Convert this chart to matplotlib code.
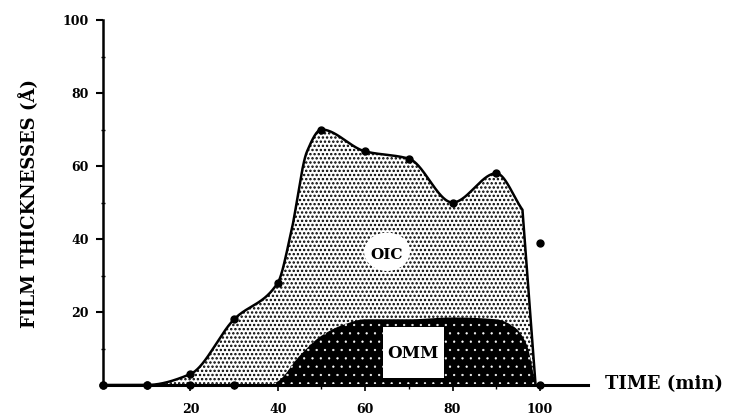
import numpy as np
import matplotlib
matplotlib.use("Agg")
import matplotlib.pyplot as plt
from matplotlib.patches import Ellipse, Rectangle

# ---- data ----
oic_time = [0, 10, 20, 30, 40, 43, 46.7, 50, 60, 70, 80, 90, 96]
oic_thick = [0, 0, 3, 18, 28, 41.5, 64, 70, 64, 62, 50, 58, 48]
oic_drop_time = [99]
oic_drop_thick = [0]
oic_marker_time = [0, 10, 20, 30, 40, 50, 60, 70, 80, 90]
oic_marker_thick = [0, 0, 3, 18, 28, 70, 64, 62, 50, 58]

omm_time = [0, 10, 20, 30, 38, 40, 45, 50, 55, 60, 70, 80, 90, 94, 97, 99]
omm_thick = [0, 0, 0, 0, 0, 1, 8, 13.5, 16.5, 18, 18, 18.5, 18, 16, 11, 0]
omm_marker_time = [0, 10, 20, 30, 100]
omm_marker_thick = [0, 0, 0, 0, 0]

extra_time = [100]
extra_thick = [39]

x_ticks = [20, 40, 60, 80, 100]
y_ticks = [20, 40, 60, 80, 100]


def pchip(x, y, xs):
    x = np.asarray(x, float); y = np.asarray(y, float)
    h = np.diff(x); d = np.diff(y) / h
    m = np.zeros_like(y)
    m[0] = d[0]; m[-1] = d[-1]
    for k in range(1, len(x) - 1):
        if d[k - 1] * d[k] <= 0:
            m[k] = 0
        else:
            w1 = 2 * h[k] + h[k - 1]; w2 = h[k] + 2 * h[k - 1]
            m[k] = (w1 + w2) / (w1 / d[k - 1] + w2 / d[k])
    out = np.empty_like(xs)
    idx = np.clip(np.searchsorted(x, xs) - 1, 0, len(x) - 2)
    for i, xv in enumerate(xs):
        k = idx[i]; t = (xv - x[k]) / h[k]
        h00 = 2 * t**3 - 3 * t**2 + 1; h10 = t**3 - 2 * t**2 + t
        h01 = -2 * t**3 + 3 * t**2; h11 = t**3 - t**2
        out[i] = h00 * y[k] + h10 * h[k] * m[k] + h01 * y[k + 1] + h11 * h[k] * m[k + 1]
    return out


fig = plt.figure(figsize=(7.31, 4.18), dpi=100)
ax = fig.add_axes([103 / 731, 33 / 418, (588 - 103) / 731, 365 / 418])
ax.set_xlim(0, 111)
ax.set_ylim(0, 100)

xs = np.linspace(oic_time[0], oic_time[-1], 800)
ys = pchip(oic_time, oic_thick, xs)
xo = np.concatenate([xs, oic_drop_time])
yo = np.concatenate([ys, oic_drop_thick])

plt.rcParams['hatch.linewidth'] = 1.15
ax.fill_between(xo, 0, yo, facecolor='white', edgecolor='black',
                hatch='....', linewidth=0, zorder=1)

xm = np.linspace(omm_time[0], omm_time[-1], 600)
ym = pchip(omm_time, omm_thick, xm)
plt.rcParams['hatch.linewidth'] = 0.4
ax.fill_between(xm, 0, ym, facecolor='black', edgecolor='white',
                hatch='..', linewidth=0, zorder=2)

ax.add_patch(Rectangle((64, 2), 14, 14, facecolor='white', edgecolor='none', zorder=3))
ax.text(71, 8.5, 'OMM', ha='center', va='center', fontsize=12,
        fontweight='bold', family='DejaVu Serif', zorder=4)

ax.add_patch(Ellipse((65, 36.5), 10.5, 10.5, facecolor='white', edgecolor='none', zorder=3))
ax.text(65, 35.5, 'OIC', ha='center', va='center', fontsize=11,
        fontweight='bold', family='DejaVu Serif', zorder=4)

ax.plot(xo, yo, color='black', lw=1.8, zorder=5)
ax.plot(oic_marker_time, oic_marker_thick, 'o', color='black', ms=5, zorder=6, clip_on=False)
ax.plot(omm_time[:5], omm_thick[:5], color='black', lw=1.8, zorder=5)
ax.plot(omm_marker_time, omm_marker_thick, 'o', color='black', ms=5, zorder=6, clip_on=False)
ax.plot(extra_time, extra_thick, 'o', color='black', ms=5, zorder=6)

for s in ['top', 'right']:
    ax.spines[s].set_visible(False)
ax.spines['left'].set_linewidth(1.8)
ax.spines['bottom'].set_linewidth(2.2)
ax.spines['left'].set_zorder(7)
ax.spines['bottom'].set_zorder(7)

ax.set_xticks(x_ticks)
ax.set_xticks([10, 30, 50, 70, 90], minor=True)
ax.set_yticks(y_ticks)
ax.set_yticks([10, 30, 50, 70, 90], minor=True)
ax.tick_params(axis='x', which='major', direction='out', length=4, width=1.2, pad=9)
ax.tick_params(axis='x', which='minor', direction='out', length=3, width=1.0)
ax.tick_params(axis='y', which='major', direction='out', length=5, width=1.5, pad=5)
ax.tick_params(axis='y', which='minor', direction='inout', length=3, width=1.0)
for lab in ax.get_xticklabels() + ax.get_yticklabels():
    lab.set_fontfamily('DejaVu Serif')
    lab.set_fontweight('bold')
    lab.set_fontsize(9)

fig.text(29 / 731, 1 - 203 / 418, 'FILM THICKNESSES (Å)', rotation=90,
         ha='center', va='center', fontsize=13, fontweight='bold', family='DejaVu Serif')
fig.text(605 / 731, 1 - 384 / 418, 'TIME (min)', ha='left', va='center',
         fontsize=13, fontweight='bold', family='DejaVu Serif')

fig.savefig('out.png', dpi=100)
